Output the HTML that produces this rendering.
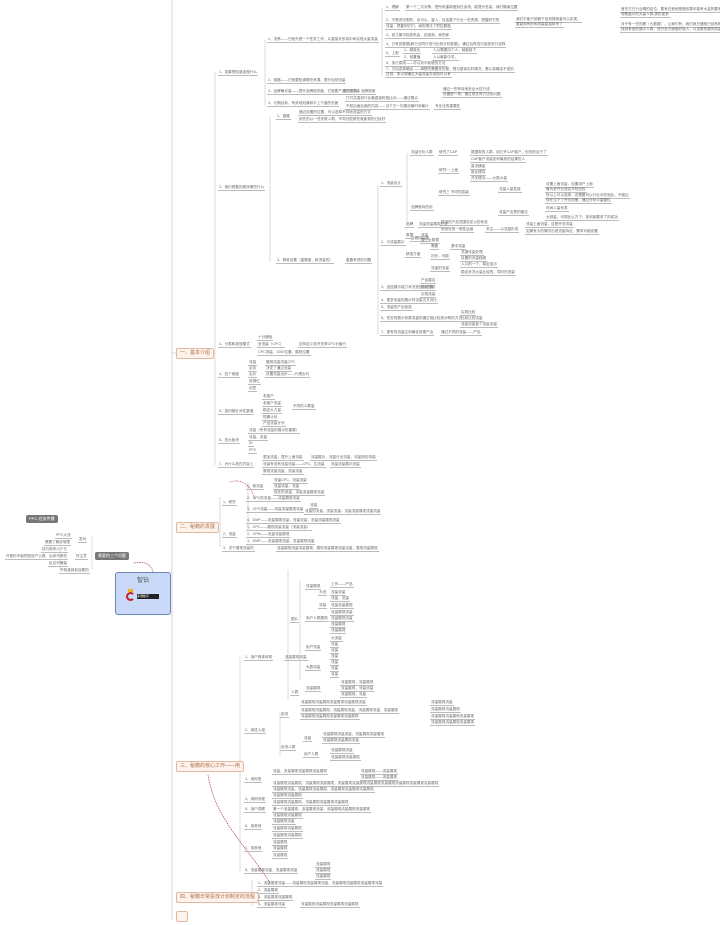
<!DOCTYPE html>
<html><head><meta charset="utf-8"><style>
html,body{margin:0;padding:0;background:#fff;}
#c{position:relative;width:720px;height:925px;overflow:hidden;background:#fff;font-family:"Liberation Sans","Noto Sans CJK SC",sans-serif;}
.t{position:absolute;font-size:3.6px;line-height:5px;color:#666;white-space:nowrap;border-bottom:0.6px solid #bbb;padding:0 1px;}
.n{border:0.6px solid #bbb;border-bottom:0.6px solid #bbb;}
.v{position:absolute;width:0;border-left:0.7px solid #c8c8c8;}
.h{position:absolute;height:0;border-top:0.7px solid #c8c8c8;}
.m{position:absolute;font-size:5px;line-height:9px;color:#b0704a;background:#fdf3ec;border:0.7px solid #e2b9a0;border-radius:2px;padding:0 3px;white-space:nowrap;}
.d{position:absolute;font-size:4px;line-height:8px;color:#fff;background:#777;border-radius:2px;padding:0 3px;white-space:nowrap;}
</style></head><body><div id="c">
<svg width="720" height="925" style="position:absolute;left:0;top:0">
<line x1="172" y1="0" x2="172" y2="920" stroke="#ccc" stroke-width="0.8"/>
<line x1="215" y1="72" x2="215" y2="465" stroke="#ccc" stroke-width="0.7"/>
<line x1="172" y1="353" x2="215" y2="353" stroke="#ccc" stroke-width="0.7"/>
<line x1="220" y1="497" x2="220" y2="548" stroke="#ccc" stroke-width="0.7"/>
<line x1="240" y1="657" x2="240" y2="872" stroke="#ccc" stroke-width="0.7"/>
<line x1="252" y1="880" x2="252" y2="906" stroke="#ccc" stroke-width="0.7"/>
<line x1="265" y1="40" x2="265" y2="106" stroke="#ccc" stroke-width="0.7"/>
<line x1="382" y1="8" x2="382" y2="76" stroke="#ccc" stroke-width="0.7"/>
<line x1="270" y1="117" x2="270" y2="262" stroke="#ccc" stroke-width="0.7"/>
<line x1="378" y1="185" x2="378" y2="335" stroke="#ccc" stroke-width="0.7"/>
<line x1="407" y1="153" x2="407" y2="225" stroke="#ccc" stroke-width="0.7"/>
<line x1="248" y1="482" x2="248" y2="530" stroke="#ccc" stroke-width="0.7"/>
<line x1="288" y1="570" x2="288" y2="700" stroke="#ccc" stroke-width="0.7"/>
<line x1="300" y1="580" x2="300" y2="680" stroke="#ccc" stroke-width="0.7"/>
<line x1="280" y1="712" x2="280" y2="755" stroke="#ccc" stroke-width="0.7"/>
<line x1="60" y1="541" x2="60" y2="570" stroke="#ccc" stroke-width="0.6"/>
<line x1="92" y1="536" x2="92" y2="570" stroke="#ccc" stroke-width="0.6"/>
<path d="M134 563 Q 150 560 153 572" stroke="#a33" stroke-width="0.7" fill="none" stroke-dasharray="1.5,1"/>
<path d="M270 883 C 250 850, 215 820, 208 775" stroke="#a33" stroke-width="0.7" fill="none" stroke-dasharray="1.5,1"/>
<path d="M230 482 C 240 478, 252 485, 255 500" stroke="#a33" stroke-width="0.6" fill="none" stroke-dasharray="1.5,1"/>
</svg>

<!-- main branches -->
<div class="m" style="left:176px;top:348px">一、基本介绍</div>
<div class="m" style="left:176px;top:522px">二、秘籍的发展</div>
<div class="m" style="left:176px;top:761px">三、秘籍的核心工作——用</div>
<div class="m" style="left:176px;top:892px">四、秘籍日常投放计划制定的流程</div>
<div class="m" style="left:176px;top:911px;width:4px">&nbsp;</div>

<!-- center -->
<div style="position:absolute;left:115px;top:572px;width:54px;height:41px;background:#c9d9f7;border:0.8px solid #6b86b8;border-radius:3px;"></div>
<div style="position:absolute;left:115px;top:575px;width:56px;text-align:center;font-size:6px;color:#555">智钻</div>
<div style="position:absolute;left:126px;top:592px;width:9px;height:9px;border-radius:50%;border:2.5px solid #c8202a;border-right-color:transparent;box-sizing:border-box"></div>
<div style="position:absolute;left:128px;top:589px;width:5px;height:3px;background:#f0b020"></div>
<div style="position:absolute;left:137px;top:594px;width:22px;height:5px;background:#222;font-size:3px;color:#fff;line-height:5px">多瑞数字</div>

<!-- left side -->
<div class="d" style="left:26px;top:515px">PPC-任务传播</div>
<div class="d" style="left:95px;top:552px">需要的三个问题</div>
<div class="t" style="left:55px;top:533px">PPC大流</div>
<div class="t" style="left:44px;top:540px">需要了解去哪里</div>
<div class="t" style="left:78px;top:537px">答问</div>
<div class="t" style="left:41px;top:547px">技巧带来六个五</div>
<div class="t" style="left:5px;top:554px">许愿你不能把投放产公费、后来不那些</div>
<div class="t" style="left:75px;top:554px">好主意</div>
<div class="t" style="left:48px;top:561px">反应不确保</div>
<div class="t" style="left:59px;top:568px">不知道到到自要的</div>

<!-- section 1 -->
<div class="t" style="left:218px;top:70px">1、如果想知道该做什么</div>
<div class="t" style="left:267px;top:37px">1、决策——它就先是一个任务工作，从直接关系到中间实现大量流量</div>
<div class="t" style="left:267px;top:78px">2、链路——它就要知道哪些来源，提升自然流量</div>
<div class="t" style="left:267px;top:89px">3、品牌曝光量——提升品牌相关度，它就要产出它次评级</div>
<div class="t" style="left:342px;top:89px">要付费的，品牌搜索</div>
<div class="t" style="left:267px;top:101px">4、长期目标，有效地知道和平上下面的页面</div>
<div class="t" style="left:345px;top:96px">打开并直到行业最直接的相比对——通过看点</div>
<div class="t" style="left:345px;top:104px">不知后面后面的内容——当下方一切建设最时间最计</div>
<div class="t" style="left:434px;top:104px">专业化的重要性</div>
<div class="t" style="left:442px;top:87px">通过一些有效地安全大性行线</div><div class="t" style="left:442px;top:92px">设置统一场，通过现在有方法的问题</div>
<div class="t" style="left:385px;top:5px">1、理解</div><div class="t" style="left:405px;top:5px">第一个二次对策，把所有重新做到在该领，能提升总量，我们确保位置</div>
<div class="t" style="left:385px;top:18px">2、不是说切割的，也可以，重人，包括整个行业一些资源，把握好它的</div>
<div class="t" style="left:385px;top:24px">流量，把握到它们，我的想法了把控要做</div>
<div class="t" style="left:515px;top:17px">我们不能只依赖于自然搜索客可以实现，</div><div class="t" style="left:515px;top:22px">要能到有的和流量直接带来了</div>
<div class="t" style="left:620px;top:7px">首先它已行业情的定位，要有在我他是做效果可能有大量的要来的，</div>
<div class="t" style="left:620px;top:12px">想覆盖中的大量人群,提供更多</div>
<div class="t" style="left:620px;top:22px">对于有一些的看（大数据），让我们有，我们就已通常已经有相比较说的需求了，</div>
<div class="t" style="left:620px;top:27px">找到有效的展示人群，进行全方面做好投入，以及更的要的流量</div>
<div class="t" style="left:385px;top:33px">3、前几期中投放机会，品相商，我的家</div>
<div class="t" style="left:385px;top:42px">4、已有的数据(和行业同行进行比较分析数据)，通过后再进行投放进行选择</div>
<div class="t" style="left:385px;top:51px">5、上报</div><div class="t" style="left:403px;top:48px">1、精准化</div><div class="t" style="left:432px;top:48px">人以需要向个人，就能接下</div><div class="t" style="left:403px;top:55px">2、前置值</div><div class="t" style="left:432px;top:55px">人以最能中关，</div>
<div class="t" style="left:385px;top:61px">6、执行原则——可以判不能够的方法</div>
<div class="t" style="left:385px;top:67px">7、方向选择确定——清楚的需要来的是，想与整体实时情况，需认真确定不成的</div>
<div class="t" style="left:385px;top:72px">过到，多以想通过大量流量在前知可以有</div>

<div class="t" style="left:218px;top:185px">2、我们具备的具体哪些什么</div>
<div class="t" style="left:276px;top:114px">1、链路</div>
<div class="t" style="left:298px;top:110px">通过设置的位置，可以选择不同地流量的方式</div>
<div class="t" style="left:298px;top:117px">即先的以一些关联人群，不同分层那些就能带的已经好</div>
<div class="t" style="left:380px;top:181px">1、流量设计</div>
<div class="t" style="left:410px;top:150px">流量分析人群</div><div class="t" style="left:438px;top:150px">研究了CAP</div>
<div class="t" style="left:470px;top:150px">数据类的人群，用打开CAP客户，但效的及于了</div>
<div class="t" style="left:470px;top:157px">CAP客户流量如何最到的结果的人</div>
<div class="t" style="left:438px;top:168px">研究一 上面</div><div class="t" style="left:470px;top:164px">直流通量</div><div class="t" style="left:470px;top:170px">新比理向</div><div class="t" style="left:470px;top:176px">开关理对——大数大量</div>
<div class="t" style="left:438px;top:190px">研究三 不同的层级</div>
<div class="t" style="left:498px;top:187px">流量人量性能</div><div class="t" style="left:545px;top:182px">设置上面流量，设置用户上面</div><div class="t" style="left:545px;top:187px">最为多开业现实开机比较</div>
<div class="t" style="left:545px;top:193px">所以上可以选择，还需要可以行业中的相比，不能比</div><div class="t" style="left:545px;top:198px">现在当下了开关设备，通过分析中重要性</div>
<div class="t" style="left:498px;top:210px">流量产出是的做法</div><div class="t" style="left:545px;top:206px">时间人量系表</div><div class="t" style="left:545px;top:215px">大批量，可视比以方下，放到某要求了的成功</div>
<div class="t" style="left:410px;top:205px">品牌面向的用</div>
<div class="t" style="left:440px;top:220px">精准的产品范围设定以的标准</div><div class="t" style="left:440px;top:227px">系统化的一般性运营</div><div class="t" style="left:485px;top:227px">关注——以流量形成</div>
<div class="t" style="left:525px;top:222px">流量上面流量，这是开关流量</div><div class="t" style="left:525px;top:229px">如果有大的情况出现流量特征，需求可能设置</div>
<div class="t" style="left:410px;top:236px">正确的结果</div>
<div class="t" style="left:380px;top:240px">2、与流量展示</div>
<div class="t" style="left:405px;top:222px">品牌</div><div class="t" style="left:418px;top:222px">流量流量展现开关</div>
<div class="t" style="left:405px;top:233px">数据</div><div class="t" style="left:420px;top:233px">流量</div>
<div class="t" style="left:420px;top:238px">整个大数据</div>
<div class="t" style="left:405px;top:252px">精准方面</div><div class="t" style="left:430px;top:244px">需要</div><div class="t" style="left:450px;top:244px">基本流量</div>
<div class="t" style="left:430px;top:254px">初步、可能</div><div class="t" style="left:460px;top:250px">关键流量处理</div><div class="t" style="left:460px;top:256px">设置的流量程度</div>
<div class="t" style="left:430px;top:266px">流量的流量</div><div class="t" style="left:460px;top:262px">入口的一个，稳定显示</div><div class="t" style="left:460px;top:270px">稳定状况大量比较的，同时的流量</div>
<div class="t" style="left:276px;top:258px">3、精准设置（重要度，新流量的）</div>
<div class="t" style="left:345px;top:258px">重要考虑的问题</div>
<div class="t" style="left:380px;top:285px">3、选品展示能力状况投放的位置</div>
<div class="t" style="left:420px;top:278px">产品建议</div><div class="t" style="left:420px;top:285px">品质提供</div><div class="t" style="left:420px;top:292px">实现流量</div>
<div class="t" style="left:380px;top:298px">4、更多流量的展示时流量交叉对比</div>
<div class="t" style="left:380px;top:305px">5、流量的产出投放</div>
<div class="t" style="left:380px;top:316px">6、任务的展示效果流量的通过相比较其对等的方式</div>
<div class="t" style="left:460px;top:310px">实现比较</div><div class="t" style="left:460px;top:316px">比较比的流量</div><div class="t" style="left:460px;top:322px">流量流量各个流量流量</div>
<div class="t" style="left:380px;top:330px">7、更有效流量达到最佳效果产出</div><div class="t" style="left:440px;top:330px">通过不同的流量——产品</div>

<div class="t" style="left:218px;top:342px">3、分类和投放模式</div>
<div class="t" style="left:257px;top:335px">十分通信</div><div class="t" style="left:257px;top:342px">全流量（CPC）</div><div class="t" style="left:298px;top:342px">如何定义到开关率CPC价值行</div><div class="t" style="left:257px;top:350px">CPC流量，1000位置，展现位置</div>
<div class="t" style="left:218px;top:372px">4、四个维度</div>
<div class="t" style="left:248px;top:360px">流量</div><div class="t" style="left:265px;top:360px">展现流量流量CPC</div>
<div class="t" style="left:248px;top:366px">定向</div><div class="t" style="left:265px;top:366px">决定了通过流量</div>
<div class="t" style="left:248px;top:372px">出价</div><div class="t" style="left:265px;top:372px">设置流量出价——代理出价</div>
<div class="t" style="left:248px;top:379px">资源位</div><div class="t" style="left:248px;top:386px">创意</div>
<div class="t" style="left:218px;top:409px">5、如何做针对性渠道</div>
<div class="t" style="left:262px;top:394px">老客户</div><div class="t" style="left:262px;top:401px">老客户流量</div><div class="t" style="left:262px;top:408px">稳定大力量</div><div class="t" style="left:262px;top:415px">短期计划</div><div class="t" style="left:262px;top:421px">产品流量计划</div>
<div class="t" style="left:292px;top:404px">不同的人群量</div>
<div class="t" style="left:218px;top:438px">6、四大板块</div>
<div class="t" style="left:248px;top:428px">流量（所有流量的展示的重要）</div><div class="t" style="left:248px;top:435px">流量，流量</div><div class="t" style="left:248px;top:441px">ID</div><div class="t" style="left:248px;top:448px">PPC</div>
<div class="t" style="left:218px;top:462px">7、为什么放在内容上</div>
<div class="t" style="left:262px;top:455px">更加流量，提升上面流量</div><div class="t" style="left:310px;top:455px">流量展示，流量行业流量，流量到的流量</div>
<div class="t" style="left:262px;top:462px">流量有没有流量流量——CPC，生流量</div><div class="t" style="left:330px;top:462px">流量流量展示流量</div>
<div class="t" style="left:262px;top:469px">展现流量流量，流量流量</div>

<!-- section 2 -->
<div class="t" style="left:222px;top:500px">1、研究</div>
<div class="t" style="left:246px;top:484px">1、新流量</div><div class="t" style="left:273px;top:478px">流量CPC，流量流量</div><div class="t" style="left:273px;top:484px">流量流量，流量</div><div class="t" style="left:273px;top:490px">现在的流量，流量流量展现流量</div>
<div class="t" style="left:246px;top:496px">2、CPC的流量——流量展现流量</div>
<div class="t" style="left:246px;top:507px">3、CPC流量——流量流量展现流量</div><div class="t" style="left:309px;top:503px">流量</div><div class="t" style="left:304px;top:509px">流量的流量，流量流量，流量流量展现流量流量</div>
<div class="t" style="left:246px;top:518px">4、DMP——流量展现流量，流量流量，流量流量展现流量</div>
<div class="t" style="left:222px;top:532px">2、流量</div>
<div class="t" style="left:246px;top:525px">1、CPC——展现流量流量（流量流量）</div><div class="t" style="left:246px;top:532px">2、CPM——流量流量展现</div><div class="t" style="left:246px;top:539px">3、DMP——流量展现流量，流量展现流量</div>
<div class="t" style="left:222px;top:546px">3、关于展现流量的</div><div class="t" style="left:276px;top:546px">流量展现流量流量展现，展现流量展现流量流量，展现流量展现</div>

<!-- section 3 -->
<div class="t" style="left:244px;top:655px">1、用户具体体现</div><div class="t" style="left:284px;top:655px">流量展现流量</div>
<div class="t" style="left:290px;top:617px">图片</div>
<div class="t" style="left:305px;top:584px">流量展现</div>
<div class="t" style="left:330px;top:582px">工作——产品</div><div class="t" style="left:318px;top:590px">大流</div><div class="t" style="left:330px;top:590px">流量流量</div><div class="t" style="left:330px;top:596px">流量，流量</div><div class="t" style="left:318px;top:603px">流量</div><div class="t" style="left:330px;top:603px">流量流量展现</div>
<div class="t" style="left:305px;top:616px">用户人群展现</div><div class="t" style="left:330px;top:610px">流量展现流量</div><div class="t" style="left:330px;top:616px">流量展现流量</div><div class="t" style="left:330px;top:622px">流量展现</div><div class="t" style="left:330px;top:628px">流量展现</div>
<div class="t" style="left:305px;top:645px">用户流量</div><div class="t" style="left:330px;top:636px">大流量</div><div class="t" style="left:330px;top:642px">流量</div><div class="t" style="left:330px;top:648px">流量</div><div class="t" style="left:330px;top:654px">流量</div>
<div class="t" style="left:305px;top:665px">大数流量</div><div class="t" style="left:330px;top:660px">流量</div><div class="t" style="left:330px;top:666px">流量</div><div class="t" style="left:330px;top:672px">流量</div>
<div class="t" style="left:305px;top:686px">流量展现</div><div class="t" style="left:340px;top:680px">流量展现，流量展现</div><div class="t" style="left:340px;top:686px">流量展现，流量流量</div><div class="t" style="left:340px;top:692px">流量展现，流量</div>
<div class="t" style="left:290px;top:690px">人群</div><div class="t" style="left:300px;top:700px">流量展现流量展现流量展现流量展现流量</div>
<div class="t" style="left:244px;top:728px">2、用进入组</div>
<div class="t" style="left:280px;top:712px">用流</div><div class="t" style="left:300px;top:708px">流量展现流量展现，流量展现流量，流量展现流量，流量展现</div><div class="t" style="left:300px;top:714px">流量展现流量展现流量展现流量展现</div>
<div class="t" style="left:280px;top:745px">用流人群</div><div class="t" style="left:303px;top:736px">流量</div><div class="t" style="left:322px;top:732px">流量展现流量流量，流量展现流量展现</div><div class="t" style="left:322px;top:738px">流量展现流量展现流量</div>
<div class="t" style="left:303px;top:752px">用户人群</div><div class="t" style="left:330px;top:748px">流量展现流量</div><div class="t" style="left:330px;top:755px">流量展现流量展现</div>
<div class="t" style="left:430px;top:700px">流量展现流量</div><div class="t" style="left:430px;top:707px">流量展现流量展现</div><div class="t" style="left:430px;top:714px">流量展现流量展现流量展现</div><div class="t" style="left:430px;top:720px">流量展现流量展现流量展现</div>
<div class="t" style="left:244px;top:777px">3、用标签</div><div class="t" style="left:272px;top:769px">流量，流量展现流量展现流量展现</div><div class="t" style="left:360px;top:769px">流量展现——流量展现</div><div class="t" style="left:360px;top:775px">流量展现——流量展现</div>
<div class="t" style="left:272px;top:781px">流量展现流量展现，流量展现流量展现，流量展现流量展现流量展现流量展现流量展现流量展现流量展现</div>
<div class="t" style="left:272px;top:787px">流量展现流量，流量展现流量展现，流量展现流量展现流量展现</div>
<div class="t" style="left:244px;top:797px">4、用例流程</div><div class="t" style="left:272px;top:793px">流量展现流量展现</div><div class="t" style="left:272px;top:800px">流量展现流量展现，流量展现流量展现流量展现</div>
<div class="t" style="left:244px;top:807px">5、用户洞察</div><div class="t" style="left:272px;top:807px">第一个流量展现，流量展现流量，流量展现流量展现流量展现</div>
<div class="t" style="left:244px;top:824px">6、用其他</div><div class="t" style="left:272px;top:813px">流量展现流量展现</div><div class="t" style="left:272px;top:819px">流量展现流量</div><div class="t" style="left:272px;top:826px">流量展现流量展现</div><div class="t" style="left:272px;top:833px">流量展现流量展现</div>
<div class="t" style="left:244px;top:846px">7、测其他</div><div class="t" style="left:272px;top:840px">流量展现</div><div class="t" style="left:272px;top:846px">流量展现</div><div class="t" style="left:272px;top:853px">流量展现</div>
<div class="t" style="left:244px;top:868px">8、流量展现流量，流量展现流量</div><div class="t" style="left:315px;top:862px">流量展现</div><div class="t" style="left:315px;top:868px">流量展现</div><div class="t" style="left:315px;top:874px">流量展现</div>

<!-- section 4 -->
<div class="t" style="left:257px;top:881px">1、流量展现流量——流量展现流量展现流量，流量展现流量展现流量展现流量</div>
<div class="t" style="left:257px;top:888px">2、流量展现</div>
<div class="t" style="left:257px;top:895px">3、流量展现流量展现</div>
<div class="t" style="left:257px;top:902px">4、流量展现流量</div><div class="t" style="left:300px;top:902px">流量展现流量展现流量展现流量展现</div>
</div></body></html>
